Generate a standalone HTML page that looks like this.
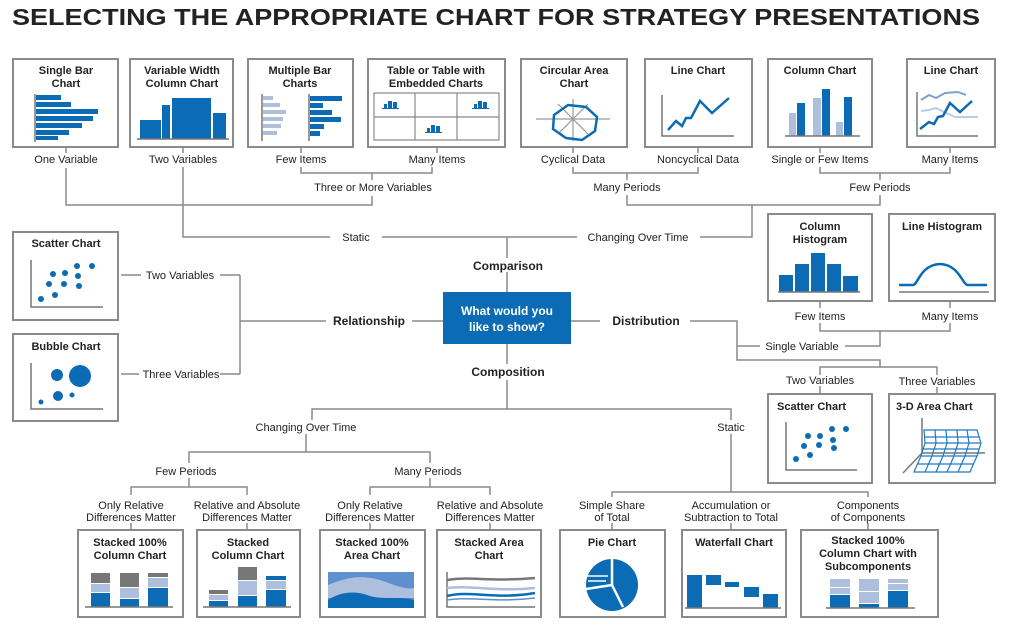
<!DOCTYPE html>
<html><head><meta charset="utf-8"><style>
html,body{margin:0;padding:0;background:#fff;}
svg{display:block;font-family:"Liberation Sans",Arial,sans-serif;}
.t{font-size:11px;font-weight:bold;fill:#222;text-anchor:middle;}
.l{font-size:11px;fill:#222;text-anchor:middle;}
.b{font-size:12px;font-weight:bold;fill:#222;text-anchor:middle;}
.box{fill:#fff;stroke:#8a8a8a;stroke-width:2;}
.ln{stroke:#8a8a8a;stroke-width:1.5;fill:none;}
.ax{stroke:#777;stroke-width:1.5;fill:none;}
.bl{fill:#0b6cb5;}
.lb{fill:#aebfde;}
.gr{fill:#777;}
</style></head><body>
<svg width="1014" height="637" viewBox="0 0 1014 637">
<text x="12" y="25" font-size="23" font-weight="bold" fill="#222" textLength="968" lengthAdjust="spacingAndGlyphs">SELECTING THE APPROPRIATE CHART FOR STRATEGY PRESENTATIONS</text>

<!-- connectors -->
<g class="ln">
<path d="M66 168V205H372V196"/>
<path d="M301 167V173H432V167M372 173V180"/>
<path d="M183 167V237H330M382 237H507V258"/>
<path d="M573 167V173H698V167M627 173V180"/>
<path d="M820 167V173H950V167M880 173V180"/>
<path d="M627 195V205H880V195M752 205V237H700M577 237H507"/>
<path d="M507 272V292M507 344V364M507 380V409"/>
<path d="M443 321H412M326 321H240M240 275V374M220 275H240M220 374H240M121 275H141M121 374H139"/>
<path d="M571 321H600M690 321H737V360H880V367M820 375V367H937V375"/>
<path d="M737 346H760M845 346H880V331H820V323M880 331H950V323"/>
<path d="M820 301V308M950 301V308M820 386V394M937 387V394"/>
<path d="M312 420V409H731V420M731 434V492"/>
<path d="M306 434V452H189V463M306 452H430V463"/>
<path d="M131 495V487H247V495M189 478V487M370 495V487H490V495M430 478V487"/>
<path d="M612 497V492H868V497"/>
<path d="M131 523V530M247 523V530M370 523V530M490 523V530M612 523V530M731 523V530M868 523V530"/>
<path d="M66 147V153M183 147V153M301 147V153M437 147V153M573 147V153M698 147V153M820 147V153M950 147V153"/>
</g>

<!-- labels -->
<text class="l" x="66" y="163">One Variable</text>
<text class="l" x="183" y="163">Two Variables</text>
<text class="l" x="301" y="163">Few Items</text>
<text class="l" x="437" y="163">Many Items</text>
<text class="l" x="373" y="191">Three or More Variables</text>
<text class="l" x="573" y="163">Cyclical Data</text>
<text class="l" x="698" y="163">Noncyclical Data</text>
<text class="l" x="820" y="163">Single or Few Items</text>
<text class="l" x="950" y="163">Many Items</text>
<text class="l" x="627" y="191">Many Periods</text>
<text class="l" x="880" y="191">Few Periods</text>
<text class="l" x="356" y="241">Static</text>
<text class="l" x="638" y="241">Changing Over Time</text>
<text class="b" x="508" y="270">Comparison</text>
<text class="b" x="369" y="325">Relationship</text>
<text class="b" x="646" y="325">Distribution</text>
<text class="b" x="508" y="376">Composition</text>
<text class="l" x="180" y="279">Two Variables</text>
<text class="l" x="181" y="378">Three Variables</text>
<text class="l" x="820" y="320">Few Items</text>
<text class="l" x="950" y="320">Many Items</text>
<text class="l" x="802" y="350">Single Variable</text>
<text class="l" x="820" y="384">Two Variables</text>
<text class="l" x="937" y="385">Three Variables</text>
<text class="l" x="306" y="431">Changing Over Time</text>
<text class="l" x="731" y="431">Static</text>
<text class="l" x="186" y="475">Few Periods</text>
<text class="l" x="428" y="475">Many Periods</text>
<text class="l" x="131" y="509">Only Relative</text><text class="l" x="131" y="521">Differences Matter</text>
<text class="l" x="247" y="509">Relative and Absolute</text><text class="l" x="247" y="521">Differences Matter</text>
<text class="l" x="370" y="509">Only Relative</text><text class="l" x="370" y="521">Differences Matter</text>
<text class="l" x="490" y="509">Relative and Absolute</text><text class="l" x="490" y="521">Differences Matter</text>
<text class="l" x="612" y="509">Simple Share</text><text class="l" x="612" y="521">of Total</text>
<text class="l" x="731" y="509">Accumulation or</text><text class="l" x="731" y="521">Subtraction to Total</text>
<text class="l" x="868" y="509">Components</text><text class="l" x="868" y="521">of Components</text>

<!-- center box -->
<rect x="443" y="292" width="128" height="52" fill="#0b6cb5"/>
<text x="507" y="315" font-size="12" font-weight="bold" fill="#fff" text-anchor="middle">What would you</text>
<text x="507" y="331" font-size="12" font-weight="bold" fill="#fff" text-anchor="middle">like to show?</text>

<!-- top row boxes -->
<rect class="box" x="13" y="59" width="105" height="88"/>
<text class="t" x="66" y="74">Single Bar</text><text class="t" x="66" y="87">Chart</text>
<path class="ax" d="M35 94V142"/>
<rect class="bl" x="36" y="95" width="25" height="5"/><rect class="bl" x="36" y="102" width="35" height="5"/><rect class="bl" x="36" y="109" width="62" height="5"/><rect class="bl" x="36" y="116" width="57" height="5"/><rect class="bl" x="36" y="123" width="46" height="5"/><rect class="bl" x="36" y="130" width="33" height="5"/><rect class="bl" x="36" y="136" width="22" height="4"/>

<rect class="box" x="130" y="59" width="103" height="88"/>
<text class="t" x="182" y="74">Variable Width</text><text class="t" x="182" y="87">Column Chart</text>
<rect class="bl" x="140" y="120" width="21" height="19"/><rect class="bl" x="162" y="105" width="8" height="34"/><rect class="bl" x="172" y="98" width="39" height="41"/><rect class="bl" x="213" y="113" width="13" height="26"/>
<path class="ax" d="M137 139H229"/>

<rect class="box" x="248" y="59" width="105" height="88"/>
<text class="t" x="300" y="74">Multiple Bar</text><text class="t" x="300" y="87">Charts</text>
<path class="ax" d="M262 94V141M309 94V141"/>
<rect class="lb" x="263" y="96" width="10" height="4"/><rect class="lb" x="263" y="103" width="17" height="4"/><rect class="lb" x="263" y="110" width="23" height="4"/><rect class="lb" x="263" y="117" width="20" height="4"/><rect class="lb" x="263" y="124" width="18" height="4"/><rect class="lb" x="263" y="131" width="14" height="4"/>
<rect class="bl" x="310" y="96" width="32" height="5"/><rect class="bl" x="310" y="103" width="13" height="5"/><rect class="bl" x="310" y="110" width="22" height="5"/><rect class="bl" x="310" y="117" width="31" height="5"/><rect class="bl" x="310" y="124" width="14" height="5"/><rect class="bl" x="310" y="131" width="10" height="5"/>

<rect class="box" x="368" y="59" width="137" height="88"/>
<text class="t" x="436" y="74">Table or Table with</text><text class="t" x="436" y="87">Embedded Charts</text>
<rect x="374" y="93" width="125" height="47" fill="none" stroke="#888" stroke-width="1.2"/>
<path d="M415 93V140M457 93V140M374 117H499" stroke="#888" stroke-width="1.2"/>
<g class="bl"><rect x="384" y="104" width="3" height="4"/><rect x="388" y="101" width="4" height="7"/><rect x="393" y="102" width="4" height="6"/><rect x="474" y="104" width="3" height="4"/><rect x="478" y="101" width="4" height="7"/><rect x="483" y="102" width="4" height="6"/><rect x="427" y="128" width="3" height="4"/><rect x="431" y="125" width="4" height="7"/><rect x="436" y="126" width="4" height="6"/></g>
<path d="M382 108.5H399M472 108.5H489M425 132.5H442" stroke="#0b6cb5" stroke-width="1"/>

<rect class="box" x="521" y="59" width="106" height="88"/>
<text class="t" x="574" y="74">Circular Area</text><text class="t" x="574" y="87">Chart</text>
<path d="M536 119H610M573 99V141M558 104L588 134M588 104L558 134" stroke="#999" stroke-width="1.2"/>
<path d="M568 105L586 107L597 117L595 131L582 140L566 138L553 129L554 115Z" fill="none" stroke="#0b6cb5" stroke-width="2.5"/>

<rect class="box" x="645" y="59" width="107" height="88"/>
<text class="t" x="698" y="74">Line Chart</text>
<path class="ax" d="M662 95V136H734"/>
<path d="M668 130L676 121L682 126L686 118L691 118L700 101L712 113L729 98" fill="none" stroke="#0b6cb5" stroke-width="2.5"/>

<rect class="box" x="768" y="59" width="104" height="88"/>
<text class="t" x="820" y="74">Column Chart</text>
<rect class="lb" x="789" y="113" width="7" height="23"/><rect class="bl" x="797" y="103" width="8" height="33"/><rect class="lb" x="813" y="98" width="8" height="38"/><rect class="bl" x="822" y="89" width="8" height="47"/><rect class="lb" x="836" y="122" width="7" height="14"/><rect class="bl" x="844" y="97" width="8" height="39"/>
<path class="ax" d="M785 136H860"/>

<rect class="box" x="907" y="59" width="88" height="88"/>
<text class="t" x="951" y="74">Line Chart</text>
<path class="ax" d="M917 92V136H978"/>
<path d="M921 100L929 95L936 98L945 93L958 92L966 95" fill="none" stroke="#7f9fd2" stroke-width="2"/>
<path d="M921 111L929 110L936 108L944 112L955 117L978 117" fill="none" stroke="#bccbe6" stroke-width="2"/>
<path d="M920 129L929 122L934 124L938 117L943 116L950 103L960 112L972 101" fill="none" stroke="#0b6cb5" stroke-width="2.5"/>

<!-- left relationship boxes -->
<rect class="box" x="13" y="232" width="105" height="88"/>
<text class="t" x="66" y="247" >Scatter Chart</text>
<path class="ax" d="M31 260V307H103"/>
<g class="bl"><circle cx="41" cy="299" r="3"/><circle cx="55" cy="295" r="3"/><circle cx="49" cy="284" r="3"/><circle cx="64" cy="284" r="3"/><circle cx="79" cy="286" r="3"/><circle cx="53" cy="274" r="3"/><circle cx="65" cy="273" r="3"/><circle cx="78" cy="276" r="3"/><circle cx="77" cy="266" r="3"/><circle cx="92" cy="266" r="3"/></g>

<rect class="box" x="13" y="334" width="105" height="87"/>
<text class="t" x="66" y="350">Bubble Chart</text>
<path class="ax" d="M31 363V409H103"/>
<g class="bl"><circle cx="57" cy="375" r="6"/><circle cx="80" cy="376" r="11"/><circle cx="58" cy="396" r="5"/><circle cx="72" cy="395" r="2.5"/><circle cx="41" cy="402" r="2.5"/></g>

<!-- histograms -->
<rect class="box" x="768" y="214" width="104" height="87"/>
<text class="t" x="820" y="230">Column</text><text class="t" x="820" y="243">Histogram</text>
<rect class="bl" x="779" y="275" width="14" height="17"/><rect class="bl" x="795" y="264" width="14" height="28"/><rect class="bl" x="811" y="253" width="14" height="39"/><rect class="bl" x="827" y="264" width="14" height="28"/><rect class="bl" x="843" y="276" width="15" height="16"/>
<path class="ax" d="M778 292H860"/>
<rect class="box" x="889" y="214" width="106" height="87"/>
<text class="t" x="942" y="230">Line Histogram</text>
<path d="M899 285H913C918 285 920 265 940 264C960 265 962 285 968 285H987" fill="none" stroke="#0b6cb5" stroke-width="2.5"/>
<path class="ax" d="M899 292H989"/>

<!-- scatter 2, 3-D -->
<rect class="box" x="768" y="394" width="104" height="89"/>
<text class="t" x="777" y="410" style="text-anchor:start">Scatter Chart</text>
<path class="ax" d="M786 422V470H857"/>
<g class="bl"><circle cx="796" cy="459" r="3"/><circle cx="810" cy="455" r="3"/><circle cx="804" cy="446" r="3"/><circle cx="819" cy="445" r="3"/><circle cx="834" cy="448" r="3"/><circle cx="808" cy="436" r="3"/><circle cx="820" cy="436" r="3"/><circle cx="833" cy="440" r="3"/><circle cx="832" cy="429" r="3"/><circle cx="846" cy="429" r="3"/></g>
<rect class="box" x="889" y="394" width="106" height="89"/>
<text class="t" x="896" y="410" style="text-anchor:start">3-D Area Chart</text>
<path class="ax" d="M922 418V453M922 453L903 473M922 453H985"/>
<g fill="none" stroke="#1f7ac6" stroke-width="1.2">
<path d="M924 430H977L981 443L977 456L970 472H914L921 456L925 443Z"/>
<path d="M925 437H979M925 443H981M923 449H979M921 456H977M918 464H974"/>
<path d="M935 430L936 443L932 456L925 472M946 430L947 443L943 456L936 472M957 430L958 443L954 456L947 472M967 430L969 443L965 456L958 472"/>
</g>

<!-- bottom boxes -->
<rect class="box" x="78" y="530" width="105" height="87"/>
<text class="t" x="130" y="546">Stacked 100%</text><text class="t" x="130" y="559">Column Chart</text>
<rect class="gr" x="91" y="573" width="19" height="10"/><rect class="lb" x="91" y="584" width="19" height="8"/><rect class="bl" x="91" y="593" width="19" height="14"/>
<rect class="gr" x="120" y="573" width="19" height="14"/><rect class="lb" x="120" y="588" width="19" height="10"/><rect class="bl" x="120" y="599" width="19" height="8"/>
<rect class="gr" x="148" y="573" width="20" height="4"/><rect class="lb" x="148" y="578" width="20" height="9"/><rect class="bl" x="148" y="588" width="20" height="19"/>
<path class="ax" d="M85 607H173"/>

<rect class="box" x="197" y="530" width="103" height="87"/>
<text class="t" x="248" y="546">Stacked</text><text class="t" x="248" y="559">Column Chart</text>
<rect class="gr" x="209" y="590" width="19" height="4"/><rect class="lb" x="209" y="595" width="19" height="5"/><rect class="bl" x="209" y="601" width="19" height="6"/>
<rect class="gr" x="238" y="567" width="19" height="13"/><rect class="lb" x="238" y="581" width="19" height="14"/><rect class="bl" x="238" y="596" width="19" height="11"/>
<rect class="bl" x="266" y="576" width="20" height="4"/><rect class="lb" x="266" y="581" width="20" height="8"/><rect class="bl" x="266" y="590" width="20" height="17"/>
<path class="ax" d="M203 607H291"/>

<rect class="box" x="320" y="530" width="105" height="87"/>
<text class="t" x="372" y="546">Stacked 100%</text><text class="t" x="372" y="559">Area Chart</text>
<rect x="328" y="572" width="86" height="36" fill="#5e8fcf"/>
<path d="M328 585C345 578 360 574 380 580C395 585 405 590 414 588V598H328Z" fill="#aebfde"/>
<path d="M328 600C340 592 355 590 370 596C385 600 400 596 414 600V608H328Z" fill="#0b6cb5"/>

<rect class="box" x="437" y="530" width="104" height="87"/>
<text class="t" x="489" y="546">Stacked Area</text><text class="t" x="489" y="559">Chart</text>
<path class="ax" d="M447 572V607H535"/>
<path d="M447 580C470 576 490 582 535 578" fill="none" stroke="#777" stroke-width="2.5"/>
<path d="M447 588C470 585 495 592 535 588" fill="none" stroke="#aebfde" stroke-width="2.5"/>
<path d="M447 596C470 590 495 600 535 593" fill="none" stroke="#0b6cb5" stroke-width="2.5"/>
<path d="M447 600C470 596 495 603 535 598" fill="none" stroke="#5e8fcf" stroke-width="1.5"/>

<rect class="box" x="560" y="530" width="105" height="87"/>
<text class="t" x="612" y="546">Pie Chart</text>
<circle cx="612" cy="585" r="26" class="bl"/>
<path d="M612 585L612 559M612 585L623 607M612 585L586 589" stroke="#fff" stroke-width="2.5"/>
<path d="M586 576H608M588 581H606" stroke="#fff" stroke-width="1.5"/>

<rect class="box" x="682" y="530" width="104" height="87"/>
<text class="t" x="734" y="546">Waterfall Chart</text>
<rect class="bl" x="687" y="575" width="15" height="33"/><rect class="bl" x="706" y="575" width="15" height="10"/><rect class="bl" x="725" y="582" width="14" height="5"/><rect class="bl" x="744" y="587" width="15" height="10"/><rect class="bl" x="763" y="594" width="15" height="14"/>
<path class="ax" d="M685 608H781"/>

<rect class="box" x="801" y="530" width="137" height="87"/>
<text class="t" x="868" y="544">Stacked 100%</text><text class="t" x="868" y="557">Column Chart with</text><text class="t" x="868" y="570">Subcomponents</text>
<rect class="lb" x="830" y="579" width="20" height="8"/><rect class="lb" x="830" y="588" width="20" height="6"/><rect class="bl" x="830" y="595" width="20" height="13"/>
<rect class="lb" x="859" y="579" width="20" height="12"/><rect class="lb" x="859" y="592" width="20" height="11"/><rect class="bl" x="859" y="604" width="20" height="4"/>
<rect class="lb" x="888" y="579" width="20" height="4"/><rect class="lb" x="888" y="584" width="20" height="6"/><rect class="bl" x="888" y="591" width="20" height="17"/>
<path class="ax" d="M826 608H915"/>
</svg>
</body></html>
